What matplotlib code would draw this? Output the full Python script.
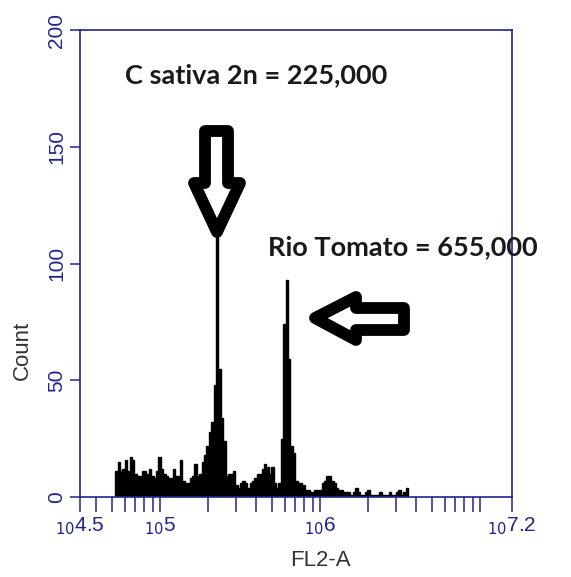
import numpy as np
import matplotlib
matplotlib.use("Agg")
import matplotlib.pyplot as plt
from matplotlib.patches import Polygon
from matplotlib.ticker import FixedLocator

# ---- data ----
log_start = 4.72
log_step = 0.015
counts = [11, 15, 11, 12, 16, 11, 17, 16, 10, 9,
          9, 11, 11, 10, 12, 9, 8, 11, 17, 12,
          10, 9, 8, 8, 12, 9, 9, 16, 7, 6,
          6, 8, 9, 14, 9, 10, 15, 18, 22, 28,
          32, 48, 112, 55, 34, 24, 9, 10, 10, 11,
          5, 4, 6, 7, 6, 4, 6, 7, 8, 10,
          10, 12, 14, 13, 10, 13, 6, 4, 6, 25,
          74, 93, 59, 22, 19, 7, 6, 6, 5, 3,
          3, 2, 2, 3, 3, 3, 6, 7, 9, 9,
          7, 6, 4, 3, 3, 2, 2, 2, 1, 2,
          4, 2, 1, 1, 2, 3, 1, 1, 1, 1,
          2, 1, 1, 1, 2, 1, 1, 2, 3, 1,
          2, 4]
x_major = [10**4.5, 1e5, 1e6, 10**7.2]
x_major_labels = [r"$_{10}$4.5", r"$_{10}$5", r"$_{10}$6", r"$_{10}$7.2"]
y_ticks = [0, 50, 100, 150, 200]
label1 = "C sativa 2n = 225,000"
label2 = "Rio Tomato = 655,000"

navy = "#23238c"
W, H = 571, 577
fig = plt.figure(figsize=(W / 100, H / 100), dpi=100)
L, R, T, B = 80, 512, 30, 497
ax = fig.add_axes([L / W, (H - B) / H, (R - L) / W, (B - T) / H])

edges = 10 ** (log_start + log_step * np.arange(len(counts) + 1))
ax.stairs(counts, edges, fill=True, facecolor="black", edgecolor="black",
          linewidth=1.0, zorder=2)

ax.set_xscale("log")
ax.set_xlim(10**4.5, 10**7.2)
ax.set_ylim(0, 200)

ax.xaxis.set_major_locator(FixedLocator(x_major))
ax.set_xticklabels(x_major_labels)
minor = []
for dec in [4, 5, 6]:
    for s in range(2, 10):
        v = s * 10**dec
        if 10**4.5 < v < 10**7.2:
            minor.append(v)
minor.append(1e7)
ax.xaxis.set_minor_locator(FixedLocator(minor))
ax.xaxis.set_minor_formatter(plt.NullFormatter())

ax.set_yticks(y_ticks)
ax.set_yticklabels([str(v) for v in y_ticks], rotation=90, va="center")

for s in ax.spines.values():
    s.set_color(navy)
    s.set_linewidth(1.2)
ax.tick_params(axis="x", which="both", direction="out", length=11, width=1.1,
               color=navy, labelcolor=navy, labelsize=15, pad=2)
ax.tick_params(axis="y", which="major", direction="out", length=7, width=1.1,
               color=navy, labelcolor=navy, labelsize=15, pad=3)
for lab in ax.get_xticklabels() + ax.get_yticklabels():
    lab.set_fontfamily("Liberation Sans")

fig.text(320 / W, 1 - 560 / H, "FL2-A", fontsize=16, color="#333333",
         family="Liberation Sans", ha="center", va="center")
fig.text(22 / W, 1 - 350 / H, "Count", fontsize=16, color="#333333",
         family="Liberation Sans", ha="center", va="center", rotation=90)


def px2ax(pts):
    return [((x - L) / (R - L), (B - y) / (B - T)) for x, y in pts]


down = [(205, 131), (228, 131), (228, 183), (240, 183), (217, 232), (194, 183), (205, 183)]
left = [(315, 318), (356, 297), (356, 308), (404, 308), (404, 330), (356, 330), (356, 340)]
for pts in (down, left):
    p = Polygon(px2ax(pts), closed=True, transform=ax.transAxes, facecolor="white",
                edgecolor="black", linewidth=8.5, joinstyle="round", zorder=5, clip_on=False)
    ax.add_patch(p)

ax.text((125 - L) / (R - L), (B - 75) / (B - T), label1, transform=ax.transAxes,
        ha="left", va="center", fontsize=19.5, fontweight="bold", family="Lato",
        color="#1a1a1a", zorder=6)
ax.text((268 - L) / (R - L), (B - 247) / (B - T), label2, transform=ax.transAxes,
        ha="left", va="center", fontsize=19.5, fontweight="bold", family="Lato",
        color="#1a1a1a", zorder=6, clip_on=False)

fig.savefig("out.png", dpi=100)
